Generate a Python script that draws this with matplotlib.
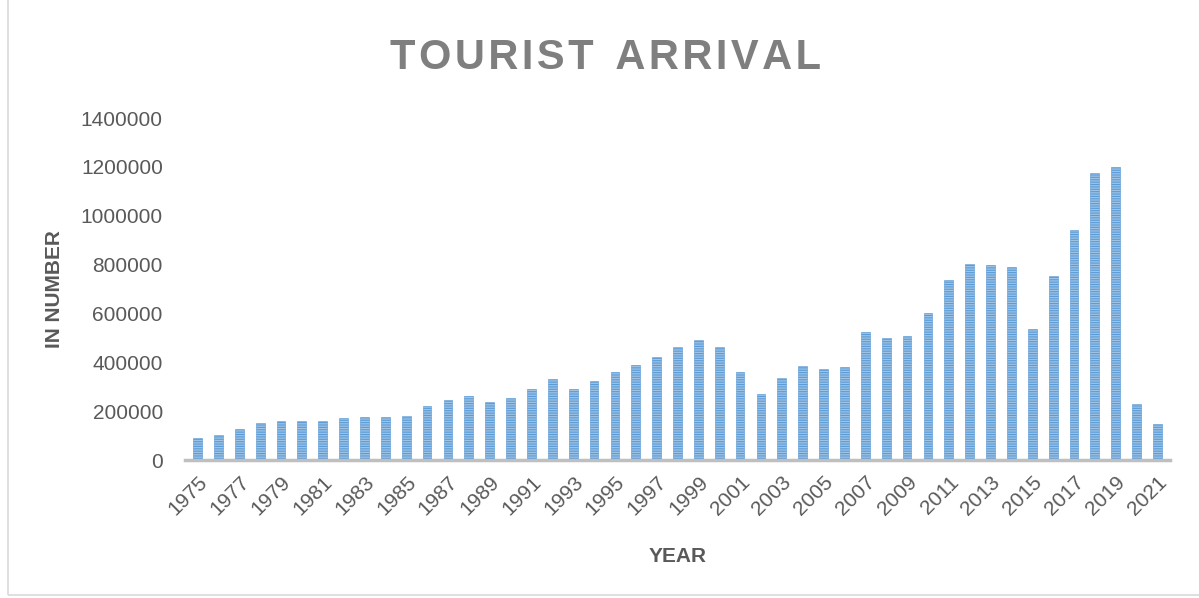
import matplotlib.pyplot as plt
from matplotlib.patches import Rectangle
import numpy as np

# Yearly tourist arrivals
years = list(range(1975, 2022))
arrivals = [
    89000, 102000, 127000, 153000, 160000, 160000, 158000, 172000, 176000, 175000,
    179000, 221000, 246000, 263000, 236000, 253000, 291000, 332000, 291000, 325000,
    360000, 390000, 420000, 461000, 490000, 461000, 360000, 271000, 337000, 384000,
    373000, 382000, 524000, 498000, 508000, 602000, 736000, 804000, 797000, 790000,
    538000, 752000, 942000, 1175000, 1198000, 229000, 149000,
]
y_ticks = [0, 200000, 400000, 600000, 800000, 1000000, 1200000, 1400000]

text_grey = '#595959'
plt.rcParams['hatch.linewidth'] = 0.8
plt.rcParams['font.family'] = ['Liberation Sans', 'DejaVu Sans']

fig = plt.figure(figsize=(11.99, 5.98), dpi=100)
ax = fig.add_axes([185 / 1199, 1 - 460 / 598, (1170 - 185) / 1199, (460 - 118) / 598])

x = np.arange(len(years))
ax.bar(x, arrivals, width=0.42, color='#9DC3E6', edgecolor='#5B9BD5',
       linewidth=0.4, hatch='-------')

ax.set_xlim(-0.6, len(years) - 0.4)
ax.set_ylim(0, 1400000)
ax.set_yticks(y_ticks)
ax.set_yticklabels([str(v) for v in y_ticks])
ax.set_xticks(x[::2])
ax.set_xticklabels([str(y) for y in years[::2]], rotation=45, ha='right',
                   rotation_mode='anchor')

for side in ['top', 'right', 'left']:
    ax.spines[side].set_visible(False)
ax.spines['bottom'].set_color('#BFBFBF')
ax.spines['bottom'].set_linewidth(2.5)
ax.tick_params(axis='both', length=0, labelsize=15, labelcolor=text_grey)
ax.tick_params(axis='y', pad=16)
ax.tick_params(axis='x', pad=9)

ax.set_xlabel('YEAR', fontsize=15, fontweight='bold', color=text_grey, labelpad=20)
ax.set_ylabel('IN NUMBER', fontsize=15, fontweight='bold', color=text_grey, labelpad=12)

title = '\u200a'.join('TOURIST') + '  ' + '\u200a'.join('ARRIVAL')
fig.text(0.505, 0.903, title, ha='center', va='center', fontsize=30,
         fontweight='bold', color='#7F7F7F')

# light outline around the chart area
fig.patches.append(Rectangle((8 / 1199, 3 / 598), 1, 1, transform=fig.transFigure,
                             fill=False, edgecolor='#D9D9D9', linewidth=1.2))

fig.savefig('out.png', dpi=100)
